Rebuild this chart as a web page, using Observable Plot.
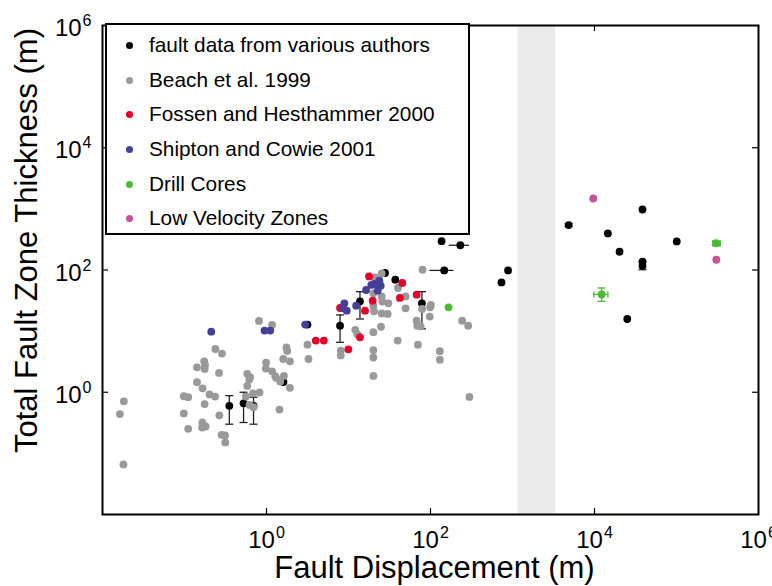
<!DOCTYPE html>
<html>
<head>
<meta charset="utf-8">
<script src="https://cdn.jsdelivr.net/npm/d3@7"></script>
<script src="https://cdn.jsdelivr.net/npm/@observablehq/plot@0.6"></script>
<style>
  body { margin: 0; background: #fff; }
  #wrap { position: relative; width: 772px; height: 586px; font-family: "Liberation Sans", Arial, Helvetica, sans-serif; color: #000; }
  #legend { position: absolute; left: 105px; top: 23px; width: 365px; height: 212px; box-sizing: border-box; border: 2px solid #000; background: #fff; }
  .row { position: absolute; left: 0; height: 30px; line-height: 30px; font-size: 20.8px; white-space: nowrap; }
  .sw { position: absolute; left: 18.5px; top: 12px; width: 7px; height: 7px; border-radius: 50%; }
  .lab { position: absolute; left: 42px; top: 0; }
  .xlab { position: absolute; left: 234.5px; width: 400px; top: 552px; height: 31px; line-height: 31px; font-size: 31px; text-align: center; white-space: nowrap; }
  .ylab { position: absolute; width: 500px; height: 31px; line-height: 31px; font-size: 31px; text-align: center; white-space: nowrap; left: -224px; top: 224.5px; transform: rotate(-90deg); }
</style>
</head>
<body>
<div id="wrap"></div>
<script>
// ---------- data ----------
// fault data from various authors (black)
const faultX = [0.352, 0.525, 0.695, 1.61, 3.16, 7.89, 13.8, 27.9, 37.2, 78.6, 136.5, 231, 147, 883, 734, 4840, 38500, 14560, 20200, 100700, 38500, 38500, 25100];
const faultY = [0.60, 0.66, 0.60, 1.47, 12.8, 12.3, 30.7, 89.3, 69.5, 28.5, 296, 254, 98.5, 98.5, 62.7, 543, 977, 396, 199, 293, 137, 117, 15.8];
// vertical error bars on fault data: x, low, high
const faultErrX  = [0.352, 0.525, 0.695, 7.89, 13.8, 78.6, 4840, 38500];
const faultErrLo = [0.30, 0.32, 0.30, 6.56, 15.8, 10.9, 515, 101];
const faultErrHi = [0.88, 1.0, 0.83, 18.4, 44.2, 44.2, 575, 137];
// horizontal error bars on fault data: y, low, high
const faultHErrY  = [254, 98.5];
const faultHErrLo = [169, 98.4];
const faultHErrHi = [299, 193];

// Beach et al. 1999 (grey)
const beachX = [0.0182, 0.0163, 0.018, 0.81, 1.17, 0.238, 0.286, 0.174, 0.178, 0.142, 0.176, 0.264, 0.142, 0.166, 0.098, 0.111, 0.202, 0.236, 0.176, 0.098, 0.266, 0.165, 0.181, 0.164, 0.111, 0.283, 0.312, 0.314, 0.582, 0.616, 0.582, 0.561, 0.683, 0.822, 0.621, 0.695, 1.75, 1.79, 1.60, 1.93, 0.99, 0.98, 1.17, 1.31, 1.63, 1.47, 1.93, 1.44, 80, 25.4, 21.0, 20.1, 25.4, 25.8, 30.6, 40.1, 49.7, 79, 99, 101, 98, 67.7, 68.9, 75.8, 70.3, 49.7, 243, 288, 130, 130, 39.8, 24.9, 20.1, 20.1, 20.1, 20.1, 25.4, 30.0, 20.1, 20.5, 12.1, 12.8, 8.05, 8.05, 3.16, 3.25, 1.28, 0.63, 298];
const beachY = [0.71, 0.44, 0.066, 14.7, 12.6, 5.1, 4.3, 3.2, 2.8, 2.56, 2.41, 2.07, 1.46, 1.16, 0.86, 0.83, 0.92, 0.85, 0.64, 0.45, 0.42, 0.32, 0.275, 0.265, 0.252, 0.201, 0.196, 0.151, 2.0, 1.61, 1.27, 0.85, 0.96, 0.99, 0.62, 0.57, 5.4, 4.75, 3.5, 3.2, 3.06, 2.44, 2.2, 1.72, 1.85, 1.50, 1.18, 0.52, 101, 88, 76, 41.5, 37, 30.4, 28.5, 50.8, 37, 23.0, 24.5, 26.8, 17.3, 14.8, 12.3, 12.0, 6.0, 23.6, 14.8, 12.3, 4.7, 3.4, 7.0, 11.8, 9.6, 4.9, 3.7, 1.85, 19.5, 19.1, 26.1, 21.1, 10.5, 8.9, 4.8, 4.0, 6.0, 3.5, 1.83, 1.76, 0.84];

// Fossen and Hesthammer 2000 (red)
const fossenX = [17.8, 45.3, 42.4, 67.7, 19.7, 15.9, 13.8, 7.89, 9.96, 3.99, 5.0];
const fossenY = [78.6, 61.3, 34.9, 39.5, 31.5, 21.6, 7.92, 23.9, 5.04, 7.0, 7.0];

// Shipton and Cowie 2001 (blue)
const shiptonX = [0.212, 0.946, 1.11, 2.96, 8.9, 8.51, 9.52, 12.4, 23.8, 20.5, 24.7, 19.0, 16.4, 22.7];
const shiptonY = [9.8, 10.2, 10.2, 12.8, 28.5, 23.9, 21.6, 26.1, 66.8, 59.0, 55.4, 56.9, 47.1, 45.9];

// Drill Cores (green)
const drillX = [166, 12200, 306000];
const drillY = [24.5, 39.9, 274];
const drillYLo = [null, 30.7, 249];
const drillYHi = [null, 50.8, 296];
const drillXLo = [null, 9840, 276000];
const drillXHi = [null, 14560, 343000];

// Low Velocity Zones (magenta)
const lvzX = [9660, 306000];
const lvzY = [1479, 147];

// shaded displacement band
const bandLo = 1170, bandHi = 3360;

// ticks
const majorTicks = [1, 100, 1e4, 1e6];
const innerTicks = [1, 100, 1e4];

const seriesNames = ["fault data from various authors", "Beach et al. 1999", "Fossen and Hesthammer 2000", "Shipton and Cowie 2001", "Drill Cores", "Low Velocity Zones"];
const seriesColors = ["#000000", "#999999", "#e3002b", "#463f97", "#4cbb32", "#c7519a"];

// ---------- build tables ----------
const pts = (X, Y) => X.map((x, i) => ({x, y: Y[i]}));
const fault = pts(faultX, faultY);
const beach = pts(beachX, beachY);
const fossen = pts(fossenX, fossenY);
const shipton = pts(shiptonX, shiptonY);
const drill = pts(drillX, drillY);
const lvz = pts(lvzX, lvzY);
const fErr = faultErrX.map((x, i) => ({x, lo: faultErrLo[i], hi: faultErrHi[i]}));
const fHErr = faultHErrY.map((y, i) => ({y, lo: faultHErrLo[i], hi: faultHErrHi[i]}));
const dErr = drillX.map((x, i) => ({x, y: drillY[i], ylo: drillYLo[i], yhi: drillYHi[i], xlo: drillXLo[i], xhi: drillXHi[i]})).filter(d => d.ylo != null);

// cap symbols
const hcap = {draw(ctx, size) { const w = Math.sqrt(size / Math.PI); ctx.moveTo(-w, 0); ctx.lineTo(w, 0); }};
const vcap = {draw(ctx, size) { const w = Math.sqrt(size / Math.PI); ctx.moveTo(0, -w); ctx.lineTo(0, w); }};

const W = 772, H = 586, mL = 102, mR = 14, mT = 25, mB = 72;
const pw = W - mL - mR, ph = H - mT - mB, tl = 6;
const R = 3.9;
const errColor = "#222";

function vErr(data, color, xk, lok, hik) {
  return [
    Plot.ruleX(data, {x: xk, y1: lok, y2: hik, stroke: color, strokeWidth: 1.3}),
    Plot.dot(data, {x: xk, y: lok, symbol: hcap, r: 4, fill: "none", stroke: color, strokeWidth: 1.3}),
    Plot.dot(data, {x: xk, y: hik, symbol: hcap, r: 4, fill: "none", stroke: color, strokeWidth: 1.3})
  ];
}
function hErr(data, color, yk, lok, hik, caps) {
  const out = [Plot.ruleY(data, {y: yk, x1: lok, x2: hik, stroke: color, strokeWidth: 1.3})];
  if (caps) out.push(
    Plot.dot(data, {x: lok, y: yk, symbol: vcap, r: 3, fill: "none", stroke: color, strokeWidth: 1.3}),
    Plot.dot(data, {x: hik, y: yk, symbol: vcap, r: 3, fill: "none", stroke: color, strokeWidth: 1.3})
  );
  return out;
}

const fmt = d => "10^" + Math.round(Math.log10(d));

const chart = Plot.plot({
  width: W, height: H,
  marginLeft: mL, marginRight: mR, marginTop: mT, marginBottom: mB,
  style: {fontFamily: '"Liberation Sans", Arial, Helvetica, sans-serif', background: "#fff", color: "#000", overflow: "visible"},
  x: {type: "log", domain: [1e-2, 1e6]},
  y: {type: "log", domain: [1e-2, 1e6]},
  marks: [
    Plot.rect([{lo: bandLo, hi: bandHi}], {x1: "lo", x2: "hi", fill: "#ebebeb"}),
    ...vErr(fErr, errColor, "x", "lo", "hi"),
    ...hErr(fHErr, errColor, "y", "lo", "hi", false),
    Plot.dot(fault, {x: "x", y: "y", r: R, fill: seriesColors[0]}),
    Plot.dot(beach, {x: "x", y: "y", r: R, fill: seriesColors[1]}),
    Plot.dot(fossen, {x: "x", y: "y", r: R, fill: seriesColors[2]}),
    Plot.dot(shipton, {x: "x", y: "y", r: R, fill: seriesColors[3]}),
    ...vErr(dErr, seriesColors[4], "x", "ylo", "yhi"),
    ...hErr(dErr, seriesColors[4], "y", "xlo", "xhi", true),
    Plot.dot(drill, {x: "x", y: "y", r: R, fill: seriesColors[4]}),
    Plot.dot(lvz, {x: "x", y: "y", r: R, fill: seriesColors[5]}),
    // inward ticks
    Plot.ruleX(innerTicks, {insetTop: ph - tl, stroke: "#000", strokeWidth: 1.2}),
    Plot.ruleX(innerTicks, {insetBottom: ph - tl, stroke: "#000", strokeWidth: 1.2}),
    Plot.ruleY(innerTicks, {insetRight: pw - tl, stroke: "#000", strokeWidth: 1.2}),
    Plot.ruleY(innerTicks, {insetLeft: pw - tl, stroke: "#000", strokeWidth: 1.2}),
    Plot.frame({stroke: "#000", strokeWidth: 2}),
    Plot.axisX({ticks: majorTicks, tickFormat: fmt, tickSize: 0, tickPadding: 16, fontSize: 24, label: null}),
    Plot.axisY({ticks: majorTicks, tickFormat: fmt, tickSize: 0, tickPadding: 11, fontSize: 24, dy: 3, label: null})
  ]
});

// superscript exponents in tick labels
const NS = "http://www.w3.org/2000/svg";
chart.querySelectorAll('g[aria-label$="tick label"] text').forEach(t => {
  const m = t.textContent.match(/^10\^(-?\d+)$/);
  if (!m) return;
  t.textContent = "";
  const a = document.createElementNS(NS, "tspan"); a.textContent = "10";
  const b = document.createElementNS(NS, "tspan"); b.textContent = m[1];
  b.setAttribute("dy", "-10"); b.setAttribute("font-size", "16"); b.setAttribute("dx", "1");
  t.append(a, b);
});

const wrap = document.getElementById("wrap");
wrap.appendChild(chart);

// legend
const leg = document.createElement("div");
leg.id = "legend";
seriesNames.forEach((name, i) => {
  const row = document.createElement("div");
  row.className = "row";
  row.style.top = (20 + i * 34.66 - 15) + "px";
  row.innerHTML = `<span class="sw" style="background:${seriesColors[i]}"></span><span class="lab">${name}</span>`;
  leg.appendChild(row);
});
wrap.appendChild(leg);

// axis titles
const xl = document.createElement("div"); xl.className = "xlab"; xl.textContent = "Fault Displacement (m)"; wrap.appendChild(xl);
const yl = document.createElement("div"); yl.className = "ylab"; yl.textContent = "Total Fault Zone Thickness (m)"; wrap.appendChild(yl);
</script>
</body>
</html>
